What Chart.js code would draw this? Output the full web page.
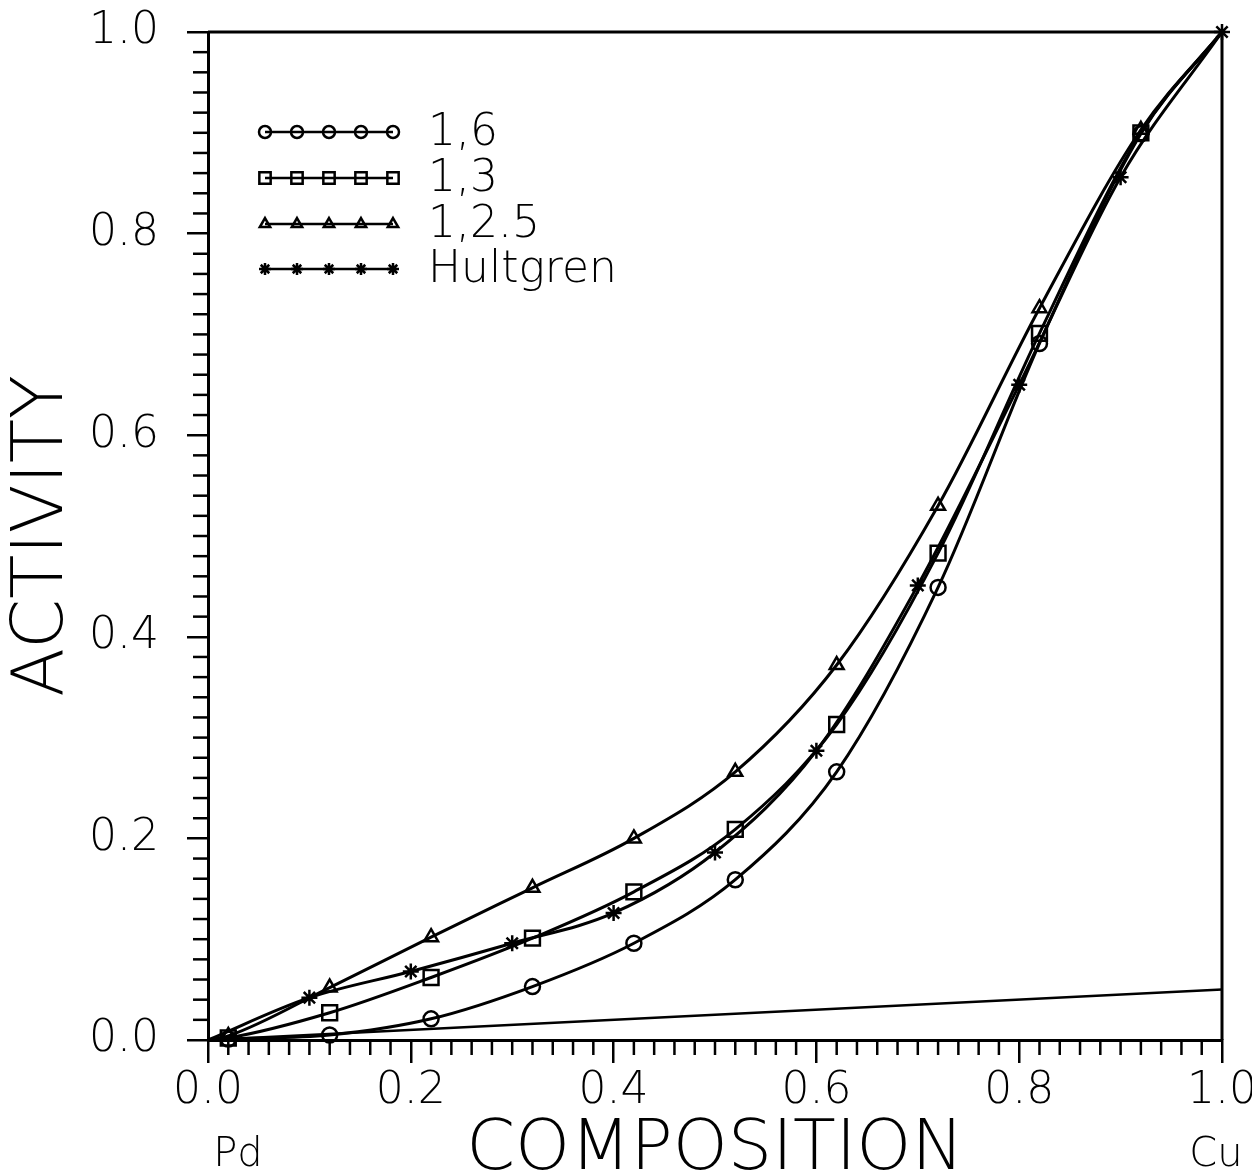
<!DOCTYPE html>
<html>
<head>
<meta charset="utf-8">
<script src="https://cdn.jsdelivr.net/npm/chart.js@4.4.1/dist/chart.umd.min.js"></script>
<style>
  body { margin: 0; background: #fff; }
  #wrap { width: 1252px; height: 1176px; position: relative; }
</style>
</head>
<body>
<div id="wrap"><canvas id="activityChart"></canvas></div>
<script>
// composition points used by the three model curves
const compX = [0, 0.02, 0.12, 0.22, 0.32, 0.42, 0.52, 0.62, 0.72, 0.82, 0.92, 1.0];
const act16 = [0, 0.001, 0.005, 0.021, 0.053, 0.096, 0.159, 0.266, 0.449, 0.691, 0.899, 1.0];
const act13 = [0, 0.002, 0.027, 0.062, 0.101, 0.147, 0.209, 0.313, 0.483, 0.701, 0.900, 1.0];
const act125 = [0, 0.004, 0.052, 0.102, 0.151, 0.200, 0.266, 0.372, 0.530, 0.726, 0.903, 1.0];

// Hultgren data
const hultX = [0, 0.1, 0.2, 0.3, 0.4, 0.5, 0.6, 0.7, 0.8, 0.9, 1.0];
const hultY = [0, 0.042, 0.068, 0.096, 0.126, 0.186, 0.287, 0.451, 0.650, 0.856, 1.0];

// straight reference line at the bottom
const refX = [0, 1.0];
const refY = [0, 0.05];

const seriesLabels = ["1,6", "1,3", "1,2.5", "Hultgren"];
const yTickLabels = ["0.0", "0.2", "0.4", "0.6", "0.8", "1.0"];

const FONT = "'DejaVu Sans', 'Liberation Sans', sans-serif";
const WEIGHT = "200";

function pts(xs, ys) {
  return xs.map((x, i) => ({ x: x, y: ys[i] }));
}

// hide markers at the end points (0 and 1) for the model curves
function modelRadius(r) {
  return function (ctx) {
    const x = ctx.raw ? ctx.raw.x : 0;
    return x === 0 || x === 1 ? 0 : r;
  };
}

function lineSet(label, data, style, radius) {
  return {
    label: label,
    data: data,
    borderColor: "#000",
    backgroundColor: "rgba(0,0,0,0)",
    borderWidth: 3,
    pointStyle: style,
    pointRadius: radius,
    pointBorderWidth: 2.5,
    pointBorderColor: "#000",
    pointBackgroundColor: "rgba(0,0,0,0)",
    cubicInterpolationMode: "monotone",
    clip: false,
  };
}

// minor ticks, frame, legend and end labels
const decorPlugin = {
  id: "decor",
  afterDraw(chart) {
    const c = chart.ctx;
    const a = chart.chartArea;
    const xs = chart.scales.x;
    const ys = chart.scales.y;
    c.save();
    c.strokeStyle = "#000";
    c.lineWidth = 2.5;
    // minor ticks every 0.02
    for (let i = 1; i < 50; i++) {
      if (i % 10 === 0) continue;
      const v = i / 50;
      const py = ys.getPixelForValue(v);
      c.beginPath();
      c.moveTo(a.left - 15, py);
      c.lineTo(a.left, py);
      c.stroke();
      const px = xs.getPixelForValue(v);
      c.beginPath();
      c.moveTo(px, a.bottom);
      c.lineTo(px, a.bottom + 15);
      c.stroke();
    }
    // top and right frame
    c.lineWidth = 3;
    c.beginPath();
    c.moveTo(a.left, a.top);
    c.lineTo(a.right, a.top);
    c.lineTo(a.right, a.bottom);
    c.stroke();

    // legend
    const rowY = [132, 178, 224, 269];
    const x0 = 265, x1 = 393;
    c.textBaseline = "middle";
    c.textAlign = "left";
    for (let i = 0; i < 4; i++) {
      const ds = chart.data.datasets[i];
      c.lineWidth = 2.5;
      c.beginPath();
      c.moveTo(x0, rowY[i]);
      c.lineTo(x1, rowY[i]);
      c.stroke();
      for (let k = 0; k < 5; k++) {
        const mx = x0 + (x1 - x0) * k / 4;
        c.fillStyle = "rgba(0,0,0,0)";
        c.lineWidth = 2.5;
        Chart.helpers.drawPoint(c, {
          pointStyle: ds.pointStyle,
          radius: ds.pointStyle === "rect" ? 8 : 6,
          borderWidth: 2.5,
          rotation: 0,
        }, mx, rowY[i]);
      }
      c.fillStyle = "#000";
      c.font = WEIGHT + " 44px " + FONT;
      c.fillText(ds.label, 428, rowY[i] + 2);
    }

    // end-member labels
    c.fillStyle = "#000";
    c.font = WEIGHT + " 40px " + FONT;
    c.textAlign = "center";
    c.fillText("Pd", 238, 1156);
    c.fillText("Cu", 1216, 1156);
    c.restore();
  },
};

const ctx = document.getElementById("activityChart").getContext("2d");
const activityChart = new Chart(ctx, {
  type: "scatter",
  data: {
    datasets: [
      lineSet(seriesLabels[0], pts(compX, act16), "circle", modelRadius(7.5)),
      lineSet(seriesLabels[1], pts(compX, act13), "rect", modelRadius(10.5)),
      lineSet(seriesLabels[2], pts(compX, act125), "triangle", modelRadius(8)),
      lineSet(seriesLabels[3], pts(hultX, hultY), "star", function (c) {
        return c.raw && c.raw.x === 0 ? 0 : 8;
      }),
      Object.assign(lineSet("ref", pts(refX, refY), "circle", 0), {
        cubicInterpolationMode: "default",
        borderWidth: 2.5,
      }),
    ],
  },
  options: {
    responsive: true,
    maintainAspectRatio: false,
    animation: false,
    showLine: true,
    layout: { padding: { top: 32, right: 30, left: 0, bottom: 0 } },
    plugins: {
      legend: { display: false },
      tooltip: { enabled: false },
    },
    scales: {
      x: {
        type: "linear",
        min: 0,
        max: 1,
        ticks: {
          stepSize: 0.2,
          color: "#000",
          font: { family: FONT, size: 44, weight: WEIGHT },
          padding: 2,
          maxRotation: 0,
          callback: (v) => v.toFixed(1),
        },
        grid: {
          drawOnChartArea: false,
          color: "#000",
          lineWidth: 2.5,
          tickLength: 23,
        },
        border: { color: "#000", width: 3 },
        title: {
          display: true,
          text: "COMPOSITION",
          color: "#000",
          font: { family: FONT, size: 70, weight: WEIGHT, lineHeight: 0.72 },
          padding: { top: 0, bottom: 0 },
        },
        afterFit(scale) {
          scale.height = 136;
          scale.paddingLeft = 0;
          scale.paddingRight = 0;
        },
      },
      y: {
        type: "linear",
        min: 0,
        max: 1,
        ticks: {
          stepSize: 0.2,
          color: "#000",
          font: { family: FONT, size: 44, weight: WEIGHT },
          padding: 28,
          callback: (v) => yTickLabels[Math.round(v * 5)],
        },
        grid: {
          drawOnChartArea: false,
          color: "#000",
          lineWidth: 2.5,
          tickLength: 21,
        },
        border: { color: "#000", width: 3 },
        title: {
          display: true,
          text: "ACTIVITY",
          color: "#000",
          font: { family: FONT, size: 72, weight: WEIGHT },
          padding: { top: 0, bottom: 0 },
        },
        afterFit(scale) {
          scale.width = 208;
          scale.paddingTop = 0;
          scale.paddingBottom = 0;
        },
      },
    },
  },
  plugins: [decorPlugin],
});
</script>
</body>
</html>
